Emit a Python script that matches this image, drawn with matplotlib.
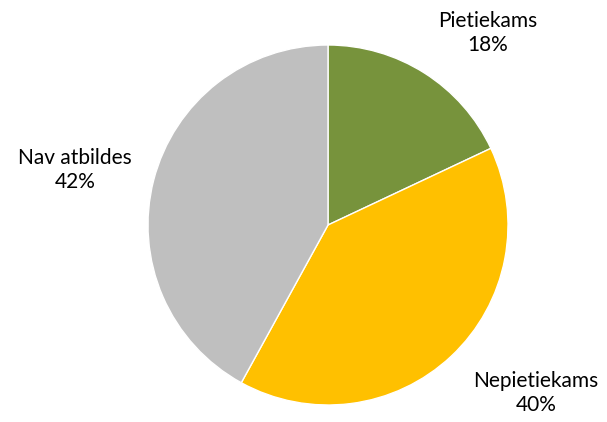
import matplotlib
matplotlib.use("Agg")
import matplotlib.pyplot as plt

categories = ["Pietiekams", "Nepietiekams", "Nav atbildes"]
values = [18, 40, 42]
colors = ["#77933C", "#FFC000", "#BFBFBF"]

fig = plt.figure(figsize=(6.07, 4.22), dpi=100)
ax = fig.add_axes([148/607, 17/422, 360/607, 360/422])
wedges, _ = ax.pie(values, colors=colors, startangle=90, counterclock=False,
                   radius=1.0, wedgeprops=dict(edgecolor="white", linewidth=1.0))
ax.set_xlim(-1, 1)
ax.set_ylim(-1, 1)
ax.set_aspect("equal")
ax.axis("off")

label_pos = [(0.887, 1.067), (1.156, -0.933), (-1.406, 0.306)]
for (x, y), name, v in zip(label_pos, categories, values):
    ax.text(x, y, f"{name}\n{v}%", ha="center", va="center", fontsize=15,
            family="Lato", color="#000000", linespacing=1.3, clip_on=False)

fig.savefig("out.png", dpi=100)
